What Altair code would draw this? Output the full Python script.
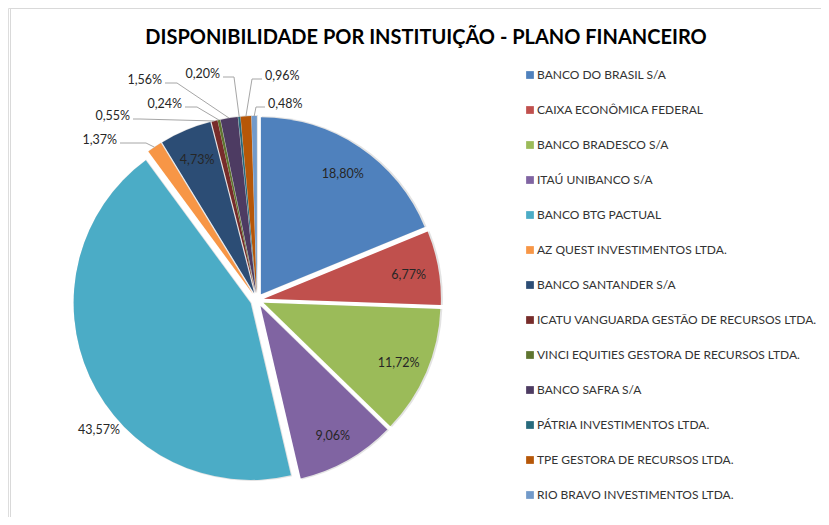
import altair as alt
import pandas as pd

# ---------------- data ----------------
names = [
    "BANCO DO BRASIL S/A",
    "CAIXA ECONÔMICA FEDERAL",
    "BANCO BRADESCO S/A",
    "ITAÚ UNIBANCO S/A",
    "BANCO BTG PACTUAL",
    "AZ QUEST INVESTIMENTOS LTDA.",
    "BANCO SANTANDER S/A",
    "ICATU VANGUARDA GESTÃO DE RECURSOS LTDA.",
    "VINCI EQUITIES GESTORA DE RECURSOS LTDA.",
    "BANCO SAFRA S/A",
    "PÁTRIA INVESTIMENTOS LTDA.",
    "TPE GESTORA DE RECURSOS LTDA.",
    "RIO BRAVO INVESTIMENTOS LTDA.",
]
shares = [18.80, 6.77, 11.72, 9.06, 43.57, 1.37, 4.73, 0.55, 0.24, 1.56, 0.20, 0.96, 0.48]
colors = [
    "#4F81BD", "#C0504D", "#9BBB59", "#8064A2", "#4BACC6", "#F79646", "#2C4D75",
    "#772C2A", "#5F7530", "#4D3B62", "#276A7C", "#B65708", "#729ACA",
]
title_text = "DISPONIBILIDADE POR INSTITUIÇÃO - PLANO FINANCEIRO"

# ---------------- layout (pixels, annotation placement only) ----------------
W, H = 813, 509
CX, CY = 249, 292      # pie centre in plot coordinates
R = 177                # pie radius
E = 7                  # slice explosion
LABEL_R = 154          # radius of inside labels
# inside-label override (dx, dy from centre)
label_override = {"BANCO BTG PACTUAL": (-158, 130)}
# outside labels: elbow (dx, dy) and horizontal end dx, all relative to pie centre
leaders = {
    "AZ QUEST INVESTIMENTOS LTDA.": (-111, -157, -137),
    "ICATU VANGUARDA GESTÃO DE RECURSOS LTDA.": (-117, -181, -124),
    "VINCI EQUITIES GESTORA DE RECURSOS LTDA.": (-60, -193, -72),
    "BANCO SAFRA S/A": (-80, -217, -92),
    "PÁTRIA INVESTIMENTOS LTDA.": (-23, -223, -34),
    "TPE GESTORA DE RECURSOS LTDA.": (-5, -221, 5),
    "RIO BRAVO INVESTIMENTOS LTDA.": (-1, -193, 8),
}

total = sum(shares)
rows = []
for i, (n, v) in enumerate(zip(names, shares)):
    lead = leaders.get(n)
    ov = label_override.get(n)
    rows.append({
        "order": i,
        "name": n,
        "share": v,
        "label": f"{v:.2f}".replace(".", ",") + "%",
        "outside": lead is not None,
        "ex": lead[0] if lead else 0,
        "ey": lead[1] if lead else 0,
        "hx": lead[2] if lead else 0,
        "side": ("L" if lead[2] < lead[0] else "R") if lead else "",
        "has_ov": ov is not None,
        "odx": ov[0] if ov else 0,
        "ody": ov[1] if ov else 0,
    })
df = pd.DataFrame(rows)

base = alt.Chart(df).transform_window(
    cum="sum(share)", sort=[alt.SortField("order")], frame=[None, 0]
).transform_joinaggregate(
    tot="sum(share)"
).transform_calculate(
    start="datum.cum - datum.share",
    mid="(datum.cum - datum.share / 2) / datum.tot * 2 * PI",
).transform_calculate(
    ox=f"{CX} + {E} * sin(datum.mid)",
    oy=f"{CY} - {E} * cos(datum.mid)",
    edge_x=f"{CX} + {R + E} * sin(datum.mid)",
    edge_y=f"{CY} - {R + E} * cos(datum.mid)",
    elbow_x=f"{CX} + datum.ex",
    elbow_y=f"{CY} + datum.ey",
    end_x=f"{CX} + datum.hx",
    tx=f"datum.has_ov ? {CX} + datum.odx : {CX} + {LABEL_R} * sin(datum.mid)",
    ty=f"datum.has_ov ? {CY} + datum.ody : {CY} - {LABEL_R} * cos(datum.mid) + 2",
    otx=f"datum.side == 'L' ? {CX} + datum.hx - 3 : {CX} + datum.hx + 3",
    oty=f"{CY} + datum.ey - 3",
)

theta_scale = alt.Scale(domain=[0, total], range=[0, 6.283185307179586])

color = alt.Color(
    "name:N",
    scale=alt.Scale(domain=names, range=colors),
    sort=names,
    legend=alt.Legend(
        title=None,
        orient="none",
        legendX=516,
        legendY=61,
        symbolType="square",
        symbolSize=60,
        symbolStrokeWidth=0,
        labelFontSize=12,
        labelFont="Lato",
        labelColor="#333333",
        labelLimit=400,
        rowPadding=23,
        labelOffset=1,
        padding=0,
    ),
)

shadow = base.mark_arc(radius=R + 1, color="#b0b0b0", opacity=0.35).encode(
    theta=alt.Theta("start:Q", scale=theta_scale),
    theta2="cum:Q",
    x=alt.X("ox:Q", scale=None).axis(None),
    y=alt.Y("oy:Q", scale=None).axis(None),
    xOffset=alt.value(1),
)

arcs = base.mark_arc(radius=R).encode(
    theta=alt.Theta("start:Q", scale=theta_scale),
    theta2="cum:Q",
    x=alt.X("ox:Q", scale=None),
    y=alt.Y("oy:Q", scale=None),
    color=color,
)

lead1 = base.transform_filter("datum.outside").mark_rule(color="#a6a6a6", strokeWidth=1).encode(
    x=alt.X("edge_x:Q", scale=None), y=alt.Y("edge_y:Q", scale=None),
    x2="elbow_x:Q", y2="elbow_y:Q",
)
lead2 = base.transform_filter("datum.outside").mark_rule(color="#a6a6a6", strokeWidth=1).encode(
    x=alt.X("elbow_x:Q", scale=None), y=alt.Y("elbow_y:Q", scale=None),
    x2="end_x:Q", y2="elbow_y:Q",
)

txt_style = dict(font="Lato", fontSize=12.5, color="#262626", baseline="middle")
inside_txt = base.transform_filter("!datum.outside").mark_text(align="center", **txt_style).encode(
    x=alt.X("tx:Q", scale=None), y=alt.Y("ty:Q", scale=None), text="label:N"
)
left_txt = base.transform_filter("datum.outside && datum.side == 'L'").mark_text(align="right", **txt_style).encode(
    x=alt.X("otx:Q", scale=None), y=alt.Y("oty:Q", scale=None), text="label:N"
)
right_txt = base.transform_filter("datum.outside && datum.side == 'R'").mark_text(align="left", **txt_style).encode(
    x=alt.X("otx:Q", scale=None), y=alt.Y("oty:Q", scale=None), text="label:N"
)

title = alt.Chart(pd.DataFrame({"t": [title_text]})).mark_text(
    font="Lato", fontSize=20, fontWeight="bold", color="#000000", align="center", baseline="middle"
).encode(x=alt.value(418), y=alt.value(30), text="t:N")

frame_top = alt.Chart(pd.DataFrame({"a": [0]})).mark_rule(color="#d9d9d9", strokeWidth=1).encode(
    x=alt.value(2.5), x2=alt.value(W), y=alt.value(0.5)
)
frame_left = alt.Chart(pd.DataFrame({"a": [0]})).mark_rule(color="#d9d9d9", strokeWidth=1).encode(
    x=alt.value(2.5), y=alt.value(0.5), y2=alt.value(H)
)

chart = alt.layer(
    frame_top, frame_left, title, shadow, arcs, lead1, lead2, inside_txt, left_txt, right_txt
).properties(
    width=W, height=H, padding=0, autosize=alt.AutoSizeParams(type="none")
).configure_view(stroke=None).configure(background="#ffffff")

chart.save("out.html", embed_options={"renderer": "svg", "actions": False})
